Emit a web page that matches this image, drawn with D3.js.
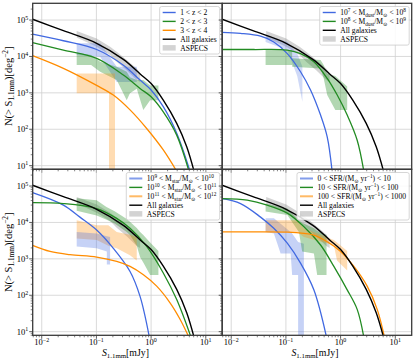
<!DOCTYPE html>
<html>
<head>
<meta charset="utf-8">
<script src="https://cdn.jsdelivr.net/npm/d3@7"></script>
<style>
  body { margin: 0; background: #fff; }
  svg { display: block; }
  text { font-family: "Liberation Serif", "DejaVu Serif", serif; fill: #000; }
</style>
</head>
<body>
<div id="chart"></div>
<script>
// ---- tick labels ----
const xTickVals = [1e-2, 1e-1, 1e0, 1e1];
const xTickLabels = ["10^{−2}", "10^{−1}", "10^{0}", "10^{1}"];
const yTickVals = [1e1, 1e2, 1e3, 1e4, 1e5];
const yTickLabels = ["10^{1}", "10^{2}", "10^{3}", "10^{4}", "10^{5}"];

// ---- all galaxies (same in every panel) ----
const allS = [0.0068, 0.0249, 0.101, 0.311, 0.631, 1.0, 1.67, 2.94, 4.48, 6.1];
const allN = [1.05e5, 5.1e4, 2.3e4, 8.3e3, 3.3e3, 1.8e3, 630, 145, 33, 7];

// ---- ASPECS band ----
const aspS  = [0.0436, 0.101, 0.178, 0.235, 0.358, 0.547, 0.63];
const aspLo = [3.3e4, 1.85e4, 1.09e4, 7.2e3, 4.2e3, 2.25e3, 2.0e3];
const aspHi = [5.0e4, 3.1e4, 1.85e4, 1.35e4, 8.0e3, 4.7e3, 3.4e3];

// ---- panel 1: redshift bins ----
const z12S = [0.0068, 0.0249, 0.101, 0.311, 0.628, 1.0, 1.67, 2.94, 5.15];
const z12N = [4.1e4, 2.7e4, 1.55e4, 5.75e3, 2.24e3, 1.2e3, 417, 78, 7];
const z23S = [0.0068, 0.0249, 0.101, 0.311, 0.628, 1.0, 1.67, 2.94, 4.93];
const z23N = [2.4e4, 1.5e4, 8.9e3, 3.1e3, 1.32e3, 780, 300, 69, 7];
const z34S = [0.0068, 0.0249, 0.101, 0.204, 0.412, 0.83, 1.67, 2.94];
const z34N = [1.05e4, 4.7e3, 1.6e3, 870, 340, 105, 27, 7];

const z12BandS  = [0.0436, 0.117, 0.235, 0.547];
const z12BandLo = [1.09e4, 9.8e3, 2.0e3, 2.0e3];
const z12BandHi = [2.3e4, 2.3e4, 5.2e3, 5.2e3];
const z23BandS  = [0.0436, 0.08, 0.117, 0.235, 0.358, 0.41, 0.547, 0.72, 0.96, 1.36];
const z23BandLo = [5.8e3, 5.8e3, 3.8e3, 2.25e3, 630, 970, 1.3e3, 340, 630, 630];
const z23BandHi = [1.26e4, 1.09e4, 7.2e3, 5.2e3, 3.8e3, 2.7e3, 2.25e3, 2.25e3, 1.6e3, 1.6e3];
const z34BandS  = [0.0436, 0.17, 0.17, 0.219];
const z34BandLo = [970, 970, 5, 5];
const z34BandHi = [3.4e3, 3.4e3, 3.4e3, 3.4e3];

// ---- panel 2: dust mass bins ----
const md78S = [0.0068, 0.0148, 0.0344, 0.060, 0.106, 0.185, 0.282, 0.43, 0.569, 0.70];
const md78N = [4.6e4, 4.3e4, 3.6e4, 2.5e4, 1.2e4, 3.8e3, 1.2e3, 245, 62, 7];
const md89S = [0.0068, 0.026, 0.106, 0.185, 0.324, 0.569, 0.867, 1.32, 2.01, 2.66];
const md89N = [1.55e4, 1.55e4, 1.5e4, 1.2e4, 7.2e3, 2.5e3, 870, 245, 50, 7];

const md78BandS  = [0.0425, 0.106, 0.161, 0.2];
const md78BandLo = [2.5e4, 1.5e4, 2.9e3, 570];
const md78BandHi = [3.9e4, 2.5e4, 1.2e4, 5.2e3];
const md89BandS  = [0.0425, 0.13, 0.13, 0.43, 0.49, 0.569, 0.8, 1.32];
const md89BandLo = [5.8e3, 5.8e3, 5.2e3, 4.7e3, 2.5e3, 870, 340, 340];
const md89BandHi = [1.5e4, 1.5e4, 8.9e3, 8.0e3, 5.8e3, 3.4e3, 2.9e3, 1.5e3];

// ---- panel 3: stellar mass bins ----
const ms910S = [0.0068, 0.0249, 0.050, 0.101, 0.204, 0.412, 0.628, 0.93];
const ms910N = [6.6e4, 3.0e4, 1.4e4, 6.2e3, 1.95e3, 450, 93, 7];
const ms1011S = [0.0068, 0.0249, 0.101, 0.235, 0.412, 0.83, 1.67, 2.94, 5.37];
const ms1011N = [3.5e4, 3.3e4, 2.4e4, 1.29e4, 6.9e3, 2.2e3, 410, 76, 7];
const ms1112S = [0.0068, 0.0142, 0.033, 0.101, 0.235, 0.412, 0.723, 1.265, 2.22, 3.38, 4.93];
const ms1112N = [2.35e3, 1.6e3, 1.3e3, 1.12e3, 850, 620, 365, 178, 62, 22, 7];

const ms910BandS  = [0.0436, 0.101, 0.155, 0.155, 0.178];
const ms910BandLo = [2.2e3, 1.95e3, 1.6e3, 700, 700];
const ms910BandHi = [5.5e3, 5.0e3, 4.2e3, 4.2e3, 4.0e3];
const ms1011BandS  = [0.0436, 0.101, 0.15, 0.219, 0.358, 0.41, 0.547, 0.63, 0.72, 0.96, 1.36];
const ms1011BandLo = [2.1e4, 1.55e4, 1.2e4, 9.2e3, 5.5e3, 4.5e3, 2.3e3, 1.1e3, 800, 360, 360];
const ms1011BandHi = [4.6e4, 4.1e4, 2.7e4, 2.0e4, 1.25e4, 1.05e4, 7.0e3, 5.5e3, 4.5e3, 2.8e3, 1.65e3];
const ms1112BandS  = [0.0436, 0.101, 0.165, 0.235, 0.41, 0.547];
const ms1112BandLo = [3.6e3, 3.3e3, 2.3e3, 1.95e3, 1.25e3, 900];
const ms1112BandHi = [1.15e4, 8.4e3, 8.4e3, 5.5e3, 4.6e3, 4.0e3];

// ---- panel 4: SFR bins ----
const sfr1S = [0.0068, 0.0148, 0.0344, 0.060, 0.106, 0.185, 0.324, 0.553];
const sfr1N = [4.5e4, 3.3e4, 1.4e4, 6.9e3, 2.7e3, 760, 141, 7];
const sfr2S = [0.0068, 0.0196, 0.0455, 0.106, 0.214, 0.43, 0.753, 1.32, 2.01, 2.66];
const sfr2N = [4.5e4, 4.1e4, 3.0e4, 1.8e4, 7.6e3, 2.4e3, 620, 141, 41, 7];
const sfr3S = [0.0068, 0.026, 0.106, 0.214, 0.324, 0.569, 1.0, 1.75, 3.06, 4.67, 6.35];
const sfr3N = [5.5e3, 5.5e3, 5.4e3, 5.0e3, 4.5e3, 2.95e3, 1.6e3, 620, 178, 41, 7];

const sfr1BandS  = [0.0425, 0.0603, 0.080, 0.122, 0.130, 0.167, 0.167, 0.213];
const sfr1BandLo = [5.5e3, 5.0e3, 1.4e3, 1.4e3, 360, 360, 5, 5];
const sfr1BandHi = [1.3e4, 1.3e4, 9.2e3, 5.5e3, 5.0e3, 2.9e3, 2.9e3, 2.6e3];
const sfr2BandS  = [0.0425, 0.106, 0.173, 0.198, 0.325, 0.373, 0.553];
const sfr2BandLo = [2.0e4, 1.6e4, 5.5e3, 1.6e3, 1.4e3, 360, 360];
const sfr2BandHi = [3.3e4, 2.4e4, 1.15e4, 9.8e3, 6.9e3, 5.8e3, 4.5e3];
const sfr3BandS  = [0.0425, 0.161, 0.213, 0.75, 0.86, 1.32];
const sfr3BandLo = [5.5e3, 5.5e3, 4.0e3, 2.4e3, 900, 480];
const sfr3BandHi = [1.15e4, 1.15e4, 6.9e3, 3.3e3, 2.8e3, 1.65e3];

// ---- legend labels ----
const zLabels   = ["1 < z < 2", "2 < z < 3", "3 < z < 4"];
const mdLabels  = ["10^{7} < M_{dust}/M_{⊙} < 10^{8}", "10^{8} < M_{dust}/M_{⊙} < 10^{9}"];
const msLabels  = ["10^{9} < M_{star}/M_{⊙} < 10^{10}", "10^{10} < M_{star}/M_{⊙} < 10^{11}", "10^{11} < M_{star}/M_{⊙} < 10^{12}"];
const sfrLabels = ["0 < SFR/(M_{⊙} yr^{−1}) < 10", "10 < SFR/(M_{⊙} yr^{−1}) < 100", "100 < SFR/(M_{⊙} yr^{−1}) < 1000"];

// ---- styling ----
const BLUE = "#4169e1", GREEN = "#228b22", ORANGE = "#ff8c00";
const W = 415, H = 360;
const marginLeft = 32.7, marginTop = 3.3, pw = 189.5, ph = 166;

const zip = (S, N) => S.map((s, i) => [s, N[i]]);
const zipBand = (S, lo, hi) => S.map((s, i) => [s, lo[i], hi[i]]);

const panels = [
  { col: 0, row: 0,
    bands: [[zipBand(z12BandS, z12BandLo, z12BandHi), BLUE, 0.3],
            [zipBand(z23BandS, z23BandLo, z23BandHi), GREEN, 0.35],
            [zipBand(z34BandS, z34BandLo, z34BandHi), ORANGE, 0.3]],
    curves: [[zip(z12S, z12N), BLUE], [zip(z23S, z23N), GREEN], [zip(z34S, z34N), ORANGE]],
    legend: zLabels, legendAlpha: [1, 1, 1] },
  { col: 1, row: 0,
    bands: [[zipBand(md78BandS, md78BandLo, md78BandHi), BLUE, 0.25],
            [zipBand(md89BandS, md89BandLo, md89BandHi), GREEN, 0.35]],
    curves: [[zip(md78S, md78N), BLUE], [zip(md89S, md89N), GREEN]],
    legend: mdLabels, legendAlpha: [1, 1] },
  { col: 0, row: 1,
    bands: [[zipBand(ms1011BandS, ms1011BandLo, ms1011BandHi), GREEN, 0.35],
            [zipBand(ms1112BandS, ms1112BandLo, ms1112BandHi), ORANGE, 0.3],
            [zipBand(ms910BandS, ms910BandLo, ms910BandHi), BLUE, 0.3]],
    curves: [[zip(ms910S, ms910N), BLUE], [zip(ms1011S, ms1011N), GREEN], [zip(ms1112S, ms1112N), ORANGE]],
    legend: msLabels, legendAlpha: [0.65, 1, 0.6] },
  { col: 1, row: 1,
    bands: [[zipBand(sfr1BandS, sfr1BandLo, sfr1BandHi), BLUE, 0.3],
            [zipBand(sfr2BandS, sfr2BandLo, sfr2BandHi), GREEN, 0.35],
            [zipBand(sfr3BandS, sfr3BandLo, sfr3BandHi), ORANGE, 0.3]],
    curves: [[zip(sfr1S, sfr1N), BLUE], [zip(sfr2S, sfr2N), GREEN], [zip(sfr3S, sfr3N), ORANGE]],
    legend: sfrLabels, legendAlpha: [0.65, 1, 0.6] }
];

const svg = d3.select("#chart").append("svg").attr("width", W).attr("height", H);

const x = d3.scaleLog().domain([Math.pow(10, -2.165), Math.pow(10, 1.3)]).range([0, pw]);
const y = d3.scaleLog().domain([Math.pow(10, 0.9), Math.pow(10, 5.46)]).range([ph, 0]);

// write "a^{b}_{c}" markup as tspans
function richText(sel, str, size) {
  const parts = str.split(/(\^\{[^}]*\}|_\{[^}]*\})/).filter(d => d !== "");
  let shift = 0;
  parts.forEach(p => {
    let txt = p, dy = 0, fs = size;
    if (p.startsWith("^{")) { txt = p.slice(2, -1); dy = -size * 0.38; fs = size * 0.7; }
    else if (p.startsWith("_{")) { txt = p.slice(2, -1); dy = size * 0.22; fs = size * 0.7; }
    sel.append("tspan").attr("dy", dy - shift).attr("font-size", fs).text(txt);
    shift = dy;
  });
}

const line = d3.line().x(d => x(d[0])).y(d => y(d[1])).curve(d3.curveCatmullRom.alpha(0.5));
const area = d3.area().x(d => x(d[0])).y0(d => y(d[1])).y1(d => y(d[2]));

panels.forEach((p, pi) => {
  const g = svg.append("g")
    .attr("transform", `translate(${marginLeft + p.col * pw},${marginTop + p.row * ph})`);

  g.append("clipPath").attr("id", "clip" + pi)
    .append("rect").attr("width", pw).attr("height", ph);

  // grid
  g.selectAll(".gx").data(xTickVals).enter().append("line")
    .attr("x1", d => x(d)).attr("x2", d => x(d)).attr("y1", 0).attr("y2", ph)
    .attr("stroke", "#d0d0d0").attr("stroke-width", 0.8);
  g.selectAll(".gy").data(yTickVals).enter().append("line")
    .attr("x1", 0).attr("x2", pw).attr("y1", d => y(d)).attr("y2", d => y(d))
    .attr("stroke", "#d0d0d0").attr("stroke-width", 0.8);

  const plot = g.append("g").attr("clip-path", `url(#clip${pi})`);

  // ASPECS band, then the bin bands and curves
  plot.append("path").datum(zipBand(aspS, aspLo, aspHi))
    .attr("d", area).attr("fill", "#808080").attr("fill-opacity", 0.35);
  p.bands.forEach(b => {
    plot.append("path").datum(b[0]).attr("d", area)
      .attr("fill", b[1]).attr("fill-opacity", b[2]);
  });
  p.curves.forEach(c => {
    plot.append("path").datum(c[0]).attr("d", line)
      .attr("fill", "none").attr("stroke", c[1]).attr("stroke-width", 1.3);
  });
  plot.append("path").datum(zip(allS, allN)).attr("d", line)
    .attr("fill", "none").attr("stroke", "#000").attr("stroke-width", 1.4);

  // ticks
  const yMinor = [];
  for (let e = 0; e <= 5; e++) for (let m = 2; m <= 9; m++) {
    const v = m * Math.pow(10, e);
    if (v > y.domain()[0] && v < y.domain()[1]) yMinor.push(v);
  }
  const xMinor = [];
  for (let e = -3; e <= 1; e++) for (let m = 2; m <= 9; m++) {
    const v = m * Math.pow(10, e);
    if (v > x.domain()[0] && v < x.domain()[1]) xMinor.push(v);
  }
  g.selectAll(".ty").data(yTickVals).enter().append("line")
    .attr("x1", -3.5).attr("x2", 0).attr("y1", d => y(d)).attr("y2", d => y(d))
    .attr("stroke", "#333").attr("stroke-width", 0.8);
  g.selectAll(".tym").data(yMinor).enter().append("line")
    .attr("x1", -2).attr("x2", 0).attr("y1", d => y(d)).attr("y2", d => y(d))
    .attr("stroke", "#333").attr("stroke-width", 0.6);
  g.selectAll(".tx").data(xTickVals).enter().append("line")
    .attr("x1", d => x(d)).attr("x2", d => x(d)).attr("y1", ph).attr("y2", ph + 3.5)
    .attr("stroke", "#333").attr("stroke-width", 0.8);
  g.selectAll(".txm").data(xMinor).enter().append("line")
    .attr("x1", d => x(d)).attr("x2", d => x(d)).attr("y1", ph).attr("y2", ph + 2)
    .attr("stroke", "#333").attr("stroke-width", 0.6);

  if (p.col === 0) {
    yTickVals.forEach((v, i) => {
      const t = g.append("text").attr("x", -4.5).attr("y", y(v) + 3)
        .attr("text-anchor", "end").attr("font-size", 8.5);
      richText(t, yTickLabels[i], 8.5);
    });
    const yl = g.append("text")
      .attr("transform", `translate(-21,${ph / 2}) rotate(-90)`)
      .attr("text-anchor", "middle").attr("font-size", 10.5);
    richText(yl, "N(> S_{1.1mm})[deg^{−2}]", 10.5);
  }
  if (p.row === 1) {
    xTickVals.forEach((v, i) => {
      const t = g.append("text").attr("x", x(v)).attr("y", ph + 10)
        .attr("text-anchor", "middle").attr("font-size", 8.5);
      richText(t, xTickLabels[i], 8.5);
    });
    const xl = g.append("text").attr("x", pw / 2 - 2).attr("y", ph + 20.5)
      .attr("text-anchor", "middle").attr("font-size", 9.8);
    xl.append("tspan").attr("font-style", "italic").text("S");
    richText(xl, "_{1.1mm}[mJy]", 9.8);
  }

  // frame
  g.append("rect").attr("width", pw).attr("height", ph)
    .attr("fill", "none").attr("stroke", "#3a3a3a").attr("stroke-width", 1.3);

  // legend
  const lg = g.append("g");
  const box = lg.append("rect");
  const entries = p.legend.map((l, i) => ({ label: l, color: p.curves[i][1], alpha: p.legendAlpha[i] }));
  entries.push({ label: "All galaxies", color: "#000", alpha: 1 });
  entries.push({ label: "ASPECS", patch: true });
  const fs = 7.6, step = 8.9;
  entries.forEach((e, i) => {
    const yy = 6 + i * step;
    if (e.patch) {
      lg.append("rect").attr("x", 0).attr("y", yy - 3).attr("width", 13).attr("height", 5.5)
        .attr("fill", "#808080").attr("fill-opacity", 0.35);
    } else {
      lg.append("line").attr("x1", 0).attr("x2", 13).attr("y1", yy).attr("y2", yy)
        .attr("stroke", e.color).attr("stroke-opacity", e.alpha)
        .attr("stroke-width", e.alpha < 1 ? 2 : 1.4);
    }
    const t = lg.append("text").attr("x", 17.5).attr("y", yy + 2.6).attr("font-size", fs);
    richText(t, e.label, fs);
  });
  const bb = lg.node().getBBox();
  const bw = bb.width + 6, bh = entries.length * step + 3;
  box.attr("x", -3).attr("y", 0).attr("width", bw).attr("height", bh).attr("rx", 2)
    .attr("fill", "#fff").attr("fill-opacity", 0.85).attr("stroke", "#ccc").attr("stroke-width", 0.8);
  lg.attr("transform", `translate(${pw - bw + 0.5},${3.2})`);
});
</script>
</body>
</html>
